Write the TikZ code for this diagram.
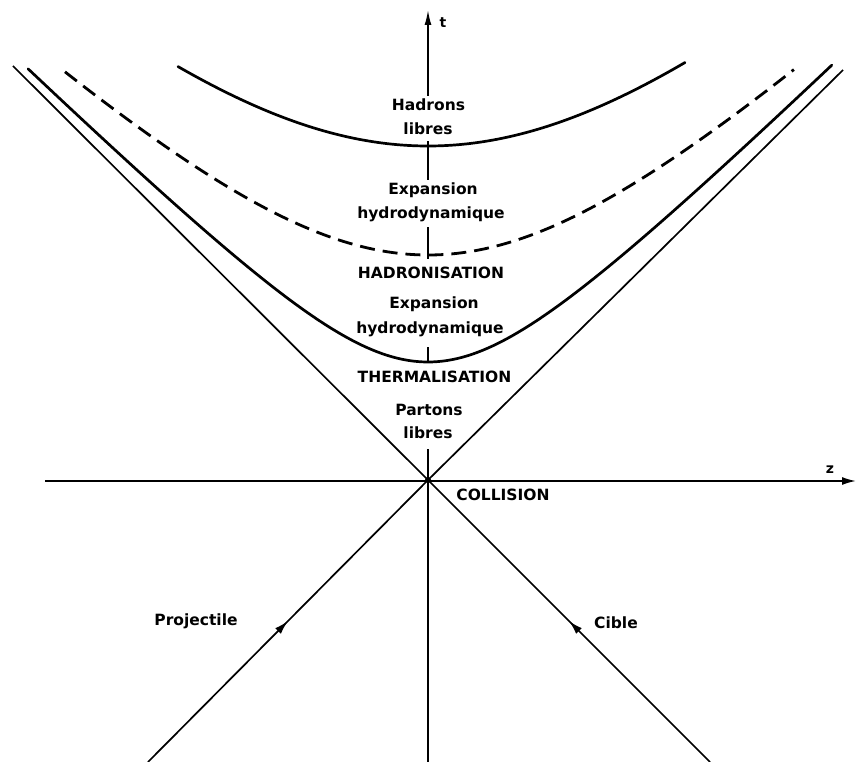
\documentclass[tikz,border=0pt]{standalone}
\usepackage{fontspec}
\setmainfont{DejaVu Sans}
\usetikzlibrary{arrows.meta,decorations.markings}
\begin{document}
\begin{tikzpicture}[x=1pt,y=-1pt,
  lbl/.style={font=\bfseries\fontsize{15.5}{19}\selectfont, anchor=base, inner sep=2pt, text height=13pt, text depth=4pt},
  small/.style={font=\bfseries\fontsize{14}{17}\selectfont, anchor=base, inner sep=1pt},
  cone/.style={line width=1.7pt},
  hyper/.style={line width=2.7pt, line cap=round},
  dashhyper/.style={line width=2.8pt, dash pattern=on 15pt off 8pt},
  axisline/.style={line width=1.7pt},
  midarrow/.style={decoration={markings, mark=at position 0.5 with {\arrow{Latex[length=14pt,width=8pt]}}}, postaction={decorate}},
  ]
\useasboundingbox (0,0) rectangle (857,762);

% key points
\coordinate (O) at (428,480);
\coordinate (tTop) at (428,10);
\coordinate (tBot) at (428,762);
\coordinate (zL) at (45,481);
\coordinate (zR) at (856,481);
\coordinate (coneUL) at (13,66);
\coordinate (coneUR) at (843,70);
\coordinate (projB) at (148,762);
\coordinate (cibB) at (710,762);

% labels
\node[lbl] (nHadrons) at (428.5,111) {Hadrons};
\node[lbl] (nLibresA) at (428,135) {libres};
\node[lbl] (nExpA) at (433,195) {Expansion};
\node[lbl] (nHydroA) at (431,219) {hydrodynamique};
\node[lbl] (nHadro) at (431,278) {HADRONISATION};
\node[lbl] (nExpB) at (434,308) {Expansion};
\node[lbl] (nHydroB) at (430,333) {hydrodynamique};
\node[lbl] (nTherm) at (434.5,382) {THERMALISATION};
\node[lbl] (nPartons) at (429,415) {Partons};
\node[lbl] (nLibresB) at (428,438) {libres};
\node[lbl] (nColl) at (503,500) {COLLISION};
\node[lbl] (nProj) at (196,625) {Projectile};
\node[lbl] (nCible) at (616,628) {Cible};
\node[small] (nt) at (443,28) {t};
\node[small] (nz) at (830,473) {z};

% axes
\draw[axisline, -{Latex[length=14pt,width=8pt]}] (zL) -- (zR);
\draw[axisline, -{Latex[length=15pt,width=7pt]}] (O |- nHadrons.north) -- (tTop);
\draw[axisline] (O |- nLibresA.south) -- (O |- nExpA.north);
\draw[axisline, shorten <=2pt, shorten >=4pt] (O |- nHydroA.south) -- (O |- nHadro.north);
\draw[axisline, shorten <=8pt, shorten >=4pt] (O |- nHydroB.south) -- (O |- nTherm.north);
\draw[axisline, shorten <=5pt] (O |- nLibresB.south) -- (O);
\draw[axisline] (O) -- (tBot);

% light cone
\draw[cone] (coneUL) -- (O);
\draw[cone] (coneUR) -- (O);
\draw[cone, midarrow] (projB) -- (O);
\draw[cone, midarrow] (cibB) -- (O);
\fill (O) circle (3pt);

% hyperbolae  t = sqrt(tau^2 + c z^2), in units of 100 px
\draw[hyper] plot[domain=-2.5:2.57, samples=120]
  ({428+100*\x}, {480-100*sqrt(11.1556+0.95*\x*\x)});
\draw[dashhyper] plot[domain=-3.63:3.66, samples=150]
  ({428+100*\x}, {480-100*sqrt(5.0625+0.88*\x*\x)});
\draw[hyper] plot[domain=-4.0:4.04, samples=160]
  ({428+100*\x}, {480-100*sqrt(1.3924+0.97*\x*\x)});
\end{tikzpicture}
\end{document}
